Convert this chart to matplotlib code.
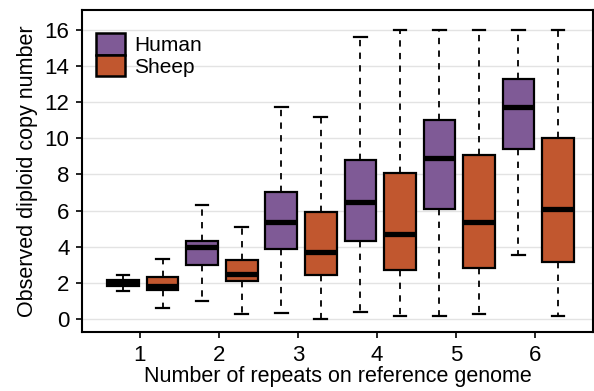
import matplotlib
matplotlib.use('Agg')
import matplotlib.pyplot as plt
from matplotlib.patches import Patch

plt.rcParams['font.family'] = ['Liberation Sans', 'DejaVu Sans']

# number of repeats on reference genome
repeats = [1, 2, 3, 4, 5, 6]

# five-number summaries: whislo, q1, median, q3, whishi
human_lo = [1.56, 0.97, 0.31, 0.36, 0.17, 3.55]
human_q1 = [1.84, 2.98, 3.90, 4.29, 6.09, 9.41]
human_med = [2.00, 3.98, 5.39, 6.46, 8.89, 11.71]
human_q3 = [2.17, 4.33, 7.05, 8.80, 11.01, 13.29]
human_hi = [2.41, 6.33, 11.74, 15.61, 16.0, 16.0]

sheep_lo = [0.61, 0.28, 0.0, 0.18, 0.28, 0.18]
sheep_q1 = [1.62, 2.08, 2.43, 2.72, 2.82, 3.17]
sheep_med = [1.80, 2.49, 3.73, 4.70, 5.36, 6.09]
sheep_q3 = [2.32, 3.28, 5.91, 8.06, 9.08, 10.03]
sheep_hi = [3.33, 5.08, 11.16, 15.98, 16.0, 16.0]

species = ['Human', 'Sheep']
colors = ['#7f5a96', '#c1572f']


def make_stats(lo, q1, med, q3, hi):
    return [dict(whislo=a, q1=b, med=c, q3=d, whishi=e, fliers=[])
            for a, b, c, d, e in zip(lo, q1, med, q3, hi)]


fig = plt.figure(figsize=(5.94, 3.91), dpi=100)
ax = fig.add_axes([0.138, 0.152, 0.86, 0.822])

for y in range(0, 17, 2):
    ax.axhline(y, color='#e3e3e3', lw=1.0, zorder=0)

groups = [
    (make_stats(human_lo, human_q1, human_med, human_q3, human_hi), -0.21, colors[0]),
    (make_stats(sheep_lo, sheep_q1, sheep_med, sheep_q3, sheep_hi), 0.29, colors[1]),
]
for stats, offset, col in groups:
    ax.bxp(stats, positions=[r + offset for r in repeats], widths=0.40,
           patch_artist=True, showfliers=False, manage_ticks=False,
           boxprops=dict(facecolor=col, edgecolor='black', linewidth=1.6),
           medianprops=dict(color='black', linewidth=3.8, solid_capstyle='butt'),
           whiskerprops=dict(color='black', linewidth=1.3, linestyle=(0, (3.5, 3.5))),
           capprops=dict(color='black', linewidth=1.6),
           capwidths=0.16)

ax.set_xlim(0.27, 6.73)
ax.set_ylim(-0.7, 17.1)
ax.set_xticks(repeats)
ax.set_yticks(range(0, 17, 2))
ax.tick_params(labelsize=16, width=1.2, length=4, color='black')
ax.tick_params(axis='y', pad=5)
ax.tick_params(axis='x', pad=6)
for s in ax.spines.values():
    s.set_linewidth(1.5)

ax.set_xlabel('Number of repeats on reference genome', fontsize=15.5, labelpad=0)
ax.set_ylabel('Observed diploid copy number', fontsize=15.5, labelpad=5)

handles = [Patch(facecolor=c, edgecolor='black', linewidth=1.8) for c in colors]
ax.legend(handles, species, loc='upper left', bbox_to_anchor=(0.027, 0.928),
          fontsize=15, frameon=False, handlelength=1.4, handleheight=1.2,
          labelspacing=0.0, handletextpad=0.45, borderpad=0.0, borderaxespad=0.0)

fig.savefig('out.png', dpi=100)
